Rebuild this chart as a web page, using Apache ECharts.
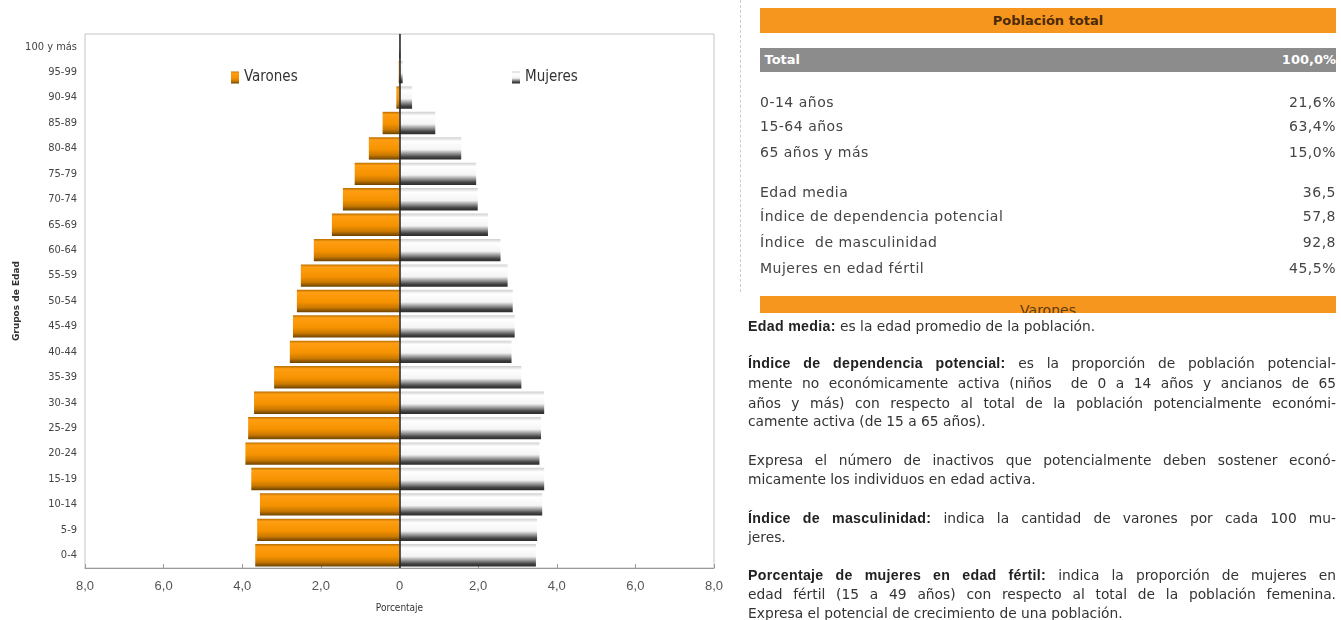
<!DOCTYPE html>
<html>
<head>
<meta charset="utf-8">
<script src="https://cdn.jsdelivr.net/npm/echarts@6/dist/echarts.min.js"></script>
<style>
  html, body { margin: 0; padding: 0; background: #fff; }
  #wrap { position: relative; width: 1341px; height: 620px; overflow: hidden; }
  #chart { position: absolute; left: 0; top: 0; width: 1341px; height: 620px; }
  .dash { position: absolute; left: 740px; top: 0; height: 292px; border-left: 1px dashed #ccc; }
  .hdr { position: absolute; left: 760px; width: 576px; background: #f7961e; text-align: center;
         font-family: 'DejaVu Sans', sans-serif; font-weight: bold; font-size: 13px; color: #4a2a08; }
  .tot { position: absolute; left: 760px; top: 48px; width: 576px; height: 24px; background: #8c8c8c;
         font-family: 'DejaVu Sans', sans-serif; font-weight: bold; font-size: 13px; color: #fff; line-height: 24px; }
  .row { position: absolute; left: 760px; width: 576px; height: 18px; line-height: 18px;
         font-family: 'DejaVu Sans', sans-serif; font-size: 14px; letter-spacing: 0.5px; color: #444; }
  .row span.v, .tot span.v { position: absolute; right: 0; top: 0; }
  .ln { position: absolute; left: 748px; width: 588px; height: 18px; line-height: 18px; white-space: nowrap;
        font-family: 'DejaVu Sans', sans-serif; font-size: 13.8px; color: #333; }
  .j { text-align: justify; text-align-last: justify; }
  .ln b { color: #222; font-family: 'Liberation Sans', Arial, sans-serif; font-size: 14.2px; letter-spacing: 0.3px; }
</style>
</head>
<body>
<div id="wrap">
  <div id="chart"></div>
  <div id="panel"></div>
</div>
<script>
// ---------- data ----------
const ageGroups = ['0-4','5-9','10-14','15-19','20-24','25-29','30-34','35-39','40-44','45-49',
  '50-54','55-59','60-64','65-69','70-74','75-79','80-84','85-89','90-94','95-99','100 y más'];
const varones = [3.67, 3.62, 3.55, 3.77, 3.92, 3.85, 3.70, 3.19, 2.79, 2.71,
  2.61, 2.51, 2.18, 1.72, 1.44, 1.14, 0.78, 0.43, 0.08, 0.02, 0.005];
const mujeres = [3.47, 3.50, 3.63, 3.68, 3.56, 3.60, 3.68, 3.10, 2.85, 2.93,
  2.88, 2.75, 2.57, 2.25, 1.99, 1.95, 1.57, 0.91, 0.32, 0.08, 0.02];
const xTicks = [-8, -6, -4, -2, 0, 2, 4, 6, 8];

const summaryRows = [
  ['0-14 años', '21,6%', 102],
  ['15-64 años', '63,4%', 126],
  ['65 años y más', '15,0%', 152],
  ['Edad media', '36,5', 192],
  ['Índice de dependencia potencial', '57,8', 216],
  ['Índice&nbsp; de masculinidad', '92,8', 242],
  ['Mujeres en edad fértil', '45,5%', 268]
];
const notes = [
  ['<b>Edad media:</b> es la edad promedio de la población.', 326, false],
  ['<b>Índice de dependencia potencial:</b> es la proporción de población potencial-', 363, true],
  ['mente no económicamente activa (niños&nbsp; de 0 a 14 años y ancianos de 65', 383, true],
  ['años y más) con respecto al total de la población potencialmente económi-', 403, true],
  ['camente activa (de 15 a 65 años).', 421, false],
  ['Expresa el número de inactivos que potencialmente deben sostener econó-', 460, true],
  ['micamente los individuos en edad activa.', 479, false],
  ['<b>Índice de masculinidad:</b> indica la cantidad de varones por cada 100 mu-', 518, true],
  ['jeres.', 537, false],
  ['<b>Porcentaje de mujeres en edad fértil:</b> indica la proporción de mujeres en', 575, true],
  ['edad fértil (15 a 49 años) con respecto al total de la población femenina.', 594, true],
  ['Expresa el potencial de crecimiento de una población.', 613, false]
];

// ---------- panel ----------
(function () {
  let h = '<div class="dash"></div>';
  h += '<div class="hdr" style="top:8px;height:25px;line-height:25px;">Población total</div>';
  h += '<div class="tot">&nbsp;Total<span class="v">100,0%</span></div>';
  summaryRows.forEach(r => {
    h += '<div class="row" style="top:' + (r[2] - 9) + 'px">' + r[0] + '<span class="v">' + r[1] + '</span></div>';
  });
  h += '<div class="hdr" style="top:296px;height:17px;line-height:28px;overflow:hidden;font-weight:normal;font-size:14px;color:#5a3a10;">Varones</div>';
  notes.forEach(n => {
    h += '<div class="ln' + (n[2] ? ' j' : '') + '" style="top:' + (n[1] - 9) + 'px">' + n[0] + '</div>';
  });
  document.getElementById('panel').innerHTML = h;
})();

// ---------- chart ----------
const chart = echarts.init(document.getElementById('chart'));
const narrow = "'Liberation Sans Narrow', 'DejaVu Sans Condensed', sans-serif";
const maleColor = new echarts.graphic.LinearGradient(0, 0, 0, 1, [
  { offset: 0, color: '#b86e00' },
  { offset: 0.12, color: '#ff9e12' },
  { offset: 0.55, color: '#f59200' },
  { offset: 0.8, color: '#c97800' },
  { offset: 1, color: '#6a4200' }
]);
const femaleColor = new echarts.graphic.LinearGradient(0, 0, 0, 1, [
  { offset: 0, color: '#cfcfcf' },
  { offset: 0.18, color: '#ffffff' },
  { offset: 0.55, color: '#f4f4f4' },
  { offset: 0.72, color: '#9a9a9a' },
  { offset: 0.88, color: '#444444' },
  { offset: 1, color: '#2a2a2a' }
]);

chart.setOption({
  animation: false,
  backgroundColor: 'transparent',
  grid: { left: 85, right: 627, top: 34, bottom: 52, show: true, borderColor: '#c4c4c4', borderWidth: 1 },
  legend: [
    { data: ['Varones'], left: 226, top: 65, itemWidth: 8, itemHeight: 12, itemGap: 4, icon: 'rect',
      textStyle: { fontSize: 15, color: '#333', fontFamily: narrow } },
    { data: ['Mujeres'], left: 507, top: 65, itemWidth: 8, itemHeight: 12, itemGap: 4, icon: 'rect',
      textStyle: { fontSize: 15, color: '#333', fontFamily: narrow } }
  ],
  xAxis: {
    type: 'value', min: xTicks[0], max: xTicks[xTicks.length - 1], interval: 2,
    name: 'Porcentaje', nameLocation: 'middle', nameGap: 35,
    nameTextStyle: { fontSize: 10, color: '#333', fontFamily: narrow },
    axisLine: { show: true, lineStyle: { color: '#999' } },
    axisTick: { show: true, length: 4, inside: true, lineStyle: { color: '#999' } },
    splitLine: { show: false },
    axisLabel: {
      fontSize: 13, color: '#555', margin: 12,
      formatter: v => v === 0 ? '0' : Math.abs(v).toFixed(1).replace('.', ',')
    }
  },
  yAxis: {
    type: 'category', data: ageGroups,
    name: 'Grupos de Edad', nameLocation: 'middle', nameGap: 62, nameRotate: 90,
    nameTextStyle: { fontSize: 9, fontWeight: 'bold', color: '#333', fontFamily: 'DejaVu Sans, sans-serif' },
    axisLine: { show: true, lineStyle: { color: '#bbb' } },
    axisTick: { show: false },
    axisLabel: { fontSize: 11, color: '#444', fontFamily: narrow, margin: 8 }
  },
  series: [
    {
      name: 'Varones', type: 'bar', data: varones.map(v => -v),
      barCategoryGap: '12%', barGap: '-100%',
      itemStyle: { color: maleColor },
      markLine: {
        silent: true, symbol: 'none', label: { show: false },
        lineStyle: { color: '#222', width: 1.5, type: 'solid' },
        data: [{ xAxis: 0 }]
      }
    },
    {
      name: 'Mujeres', type: 'bar', data: mujeres,
      barCategoryGap: '12%', barGap: '-100%',
      itemStyle: { color: femaleColor }
    }
  ]
});
</script>
</body>
</html>
